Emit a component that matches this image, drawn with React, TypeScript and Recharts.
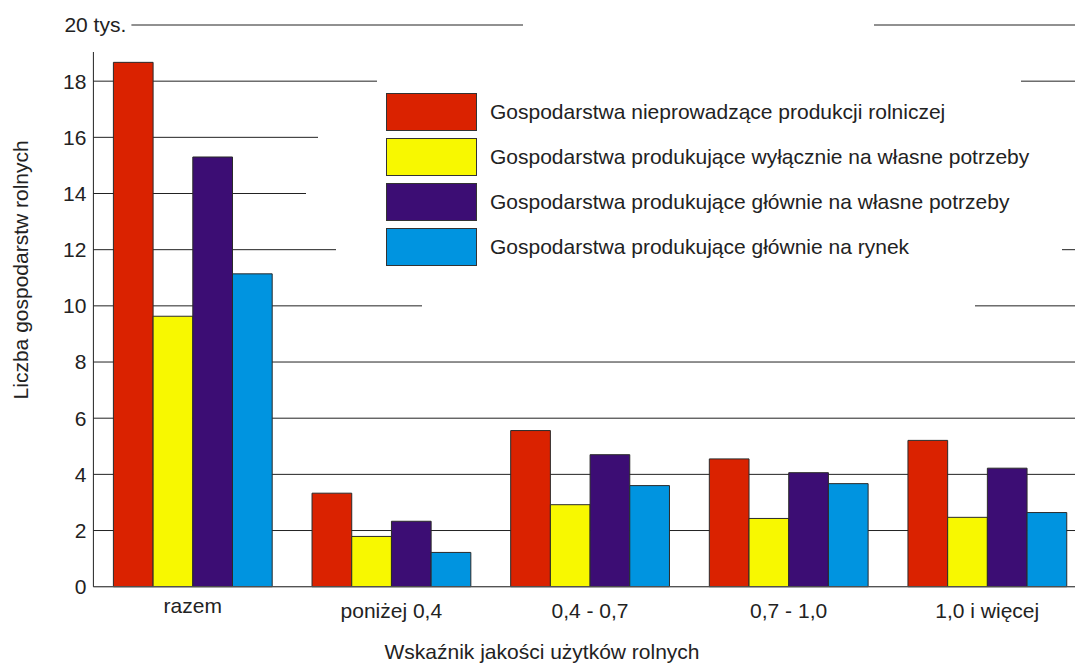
import { BarChart, Bar, XAxis, YAxis, CartesianGrid } from 'recharts';

// liczba gospodarstw rolnych (tys.) wg wskaźnika jakości użytków rolnych
const categories = ['razem', 'poniżej 0,4', '0,4 - 0,7', '0,7 - 1,0', '1,0 i więcej'];
const nieprowadzace = [18.67, 3.33, 5.56, 4.55, 5.21];
const wylacznieWlasne = [9.63, 1.79, 2.92, 2.43, 2.47];
const glownieWlasne = [15.3, 2.33, 4.7, 4.06, 4.22];
const glownieRynek = [11.14, 1.22, 3.6, 3.67, 2.64];
const yTicks = [0, 2, 4, 6, 8, 10, 12, 14, 16, 18, 20];

const series = [
  { key: 'a', name: 'Gospodarstwa nieprowadzące produkcji rolniczej', color: '#DA2200', values: nieprowadzace },
  { key: 'b', name: 'Gospodarstwa produkujące wyłącznie na własne potrzeby', color: '#F8F800', values: wylacznieWlasne },
  { key: 'c', name: 'Gospodarstwa produkujące głównie na własne potrzeby', color: '#3C0D74', values: glownieWlasne },
  { key: 'd', name: 'Gospodarstwa produkujące głównie na rynek', color: '#0094E0', values: glownieRynek },
];

const data = categories.map((cat, i) => {
  const row: Record<string, string | number> = { cat };
  series.forEach(s => { row[s.key] = s.values[i]; });
  return row;
});

const FONT = '"Liberation Sans", Arial, sans-serif';
const TEXT = '#222';

const YTick = (props: any) => {
  const { x, y, payload } = props;
  if (payload.value === 20) {
    return (
      <g>
        <rect x={x - 28} y={y - 12} width={73} height={39} fill="#fff" />
        <text x={x - 22} y={y} dy="0.355em" fontSize={21} fill={TEXT} fontFamily={FONT}>20 tys.</text>
      </g>
    );
  }
  return (
    <text x={x} y={y} dy="0.355em" textAnchor="end" fontSize={21} fill={TEXT} fontFamily={FONT}>
      {payload.value}
    </text>
  );
};

const XTick = (props: any) => {
  const { x, y, payload } = props;
  const dy = payload.value === 'razem' ? 18.5 : 23.5;
  return (
    <text x={x} y={y} dy={dy} textAnchor="middle" fontSize={21} fill={TEXT} fontFamily={FONT}>
      {payload.value}
    </text>
  );
};

const YTitle = (props: any) => {
  const vb = props.viewBox;
  const cx = vb.x + 21;
  const cy = vb.y + vb.height / 2 - 36;
  return (
    <text x={cx} y={cy} transform={`rotate(-90, ${cx}, ${cy})`} textAnchor="middle" dominantBaseline="central"
      fontSize={21} fill={TEXT} fontFamily={FONT}>
      Liczba gospodarstw rolnych
    </text>
  );
};

const XTitle = (props: any) => {
  const vb = props.viewBox;
  return (
    <text x={vb.x + vb.width / 2 - 48} y={vb.y + 72.5} textAnchor="middle" fontSize={21} fill={TEXT} fontFamily={FONT}>
      Wskaźnik jakości użytków rolnych
    </text>
  );
};

// white area behind the legend that interrupts the grid lines
const maskPoints = [
  [523, 15], [523, 50], [377, 50], [377, 108], [318, 108], [318, 165], [306, 165], [306, 221],
  [336, 221], [336, 277], [422, 277], [422, 320], [975, 320], [975, 277], [1062, 277], [1062, 221],
  [1090, 221], [1090, 108], [1021, 108], [1021, 50], [874, 50], [874, 15],
].map(p => p.join(',')).join(' ');

export default function App() {
  return (
    <div style={{ position: 'fixed', top: 0, left: 0, width: 1075, height: 664, overflow: 'hidden', background: '#fff', fontFamily: FONT }}>
      <BarChart width={1090} height={664} data={data} margin={{ top: 25, right: 3.4, left: 0, bottom: 0 }}
        barSize={39.7} barGap={0}>
        <CartesianGrid vertical={false} stroke="#222" strokeWidth={1} />
        <XAxis dataKey="cat" height={77.3} tickLine={false} tickSize={6} tickMargin={2}
          axisLine={{ stroke: '#555' }} tick={<XTick />} interval={0} label={<XTitle />} />
        <YAxis width={93.4} domain={[0, 20]} ticks={yTicks} interval={0} tickLine={false} tickSize={0} tickMargin={7}
          axisLine={{ stroke: '#222' }} tick={<YTick />} label={<YTitle />} />
        {series.map(s => (
          <Bar key={s.key} dataKey={s.key} name={s.name} fill={s.color} stroke="#2a2a2a" strokeWidth={1}
            isAnimationActive={false} />
        ))}
      </BarChart>
      <div style={{ position: 'absolute', left: 0, top: 0, width: 1075, height: 664, pointerEvents: 'none' }}>
        <svg width={1075} height={664} style={{ position: 'absolute', left: 0, top: 0 }}>
          <polygon points={maskPoints} fill="#fff" />
        </svg>
        {series.map((s, i) => (
          <div key={s.key} style={{ position: 'absolute', left: 386, top: 92.7 + i * 45.2, height: 38, display: 'flex', alignItems: 'center' }}>
            <div style={{ width: 91, height: 38, boxSizing: 'border-box', border: '1px solid #333', background: s.color }} />
            <span style={{ marginLeft: 13, fontSize: 21, color: TEXT, whiteSpace: 'nowrap' }}>{s.name}</span>
          </div>
        ))}
      </div>
    </div>
  );
}
